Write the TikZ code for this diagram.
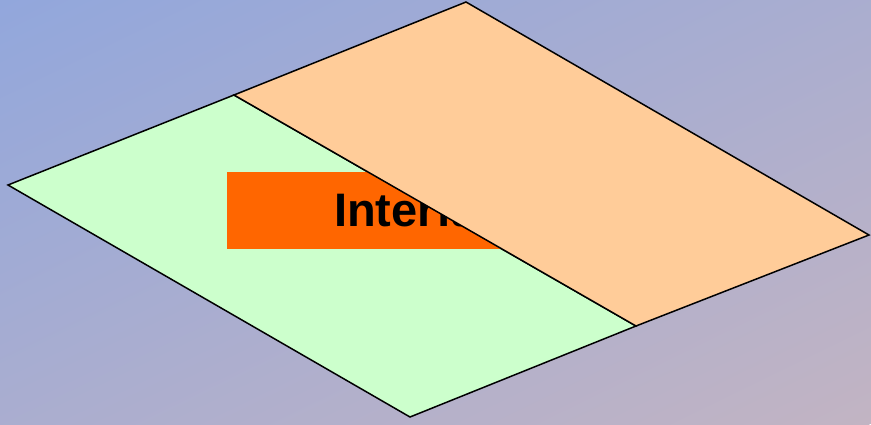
\documentclass[tikz,border=0pt]{standalone}
\usepackage{fontspec}
\setmainfont{Liberation Sans}
\definecolor{bgA}{HTML}{92A7DC}
\definecolor{bgB}{HTML}{C2B4C3}
\definecolor{greenface}{HTML}{CCFFCC}
\definecolor{orangeface}{HTML}{FFCC99}
\definecolor{ifbox}{HTML}{FF6600}
\tikzset{face/.style={draw=black,line width=1.5pt,line join=miter}}
\begin{document}
\begin{tikzpicture}[x=1pt,y=-1pt]
\useasboundingbox (0,0) rectangle (871,424);
\begin{scope}
\clip (0,0) rectangle (871,424);
\shade[transform canvas={shift={(435.5,212)},rotate=26},top color=bgA,bottom color=bgB] (-600,-381.2) rectangle (600,381.2);
\end{scope}
\coordinate (g1) at (8,185);
\coordinate (m1) at (234,95);
\coordinate (m2) at (636,326);
\coordinate (g4) at (410,417);
\coordinate (o2) at (466,2);
\coordinate (o3) at (869,235);
\fill[greenface,face] (g1) -- (m1) -- (m2) -- (g4) -- cycle;
\fill[ifbox] (227,172) rectangle (651,249);
\node[anchor=base west,inner sep=0pt,font=\bfseries\fontsize{47}{56}\selectfont] (txt) at (334,226) {Interface};
\fill[orangeface,face] (m1) -- (o2) -- (o3) -- (m2) -- cycle;
\end{tikzpicture}
\end{document}
